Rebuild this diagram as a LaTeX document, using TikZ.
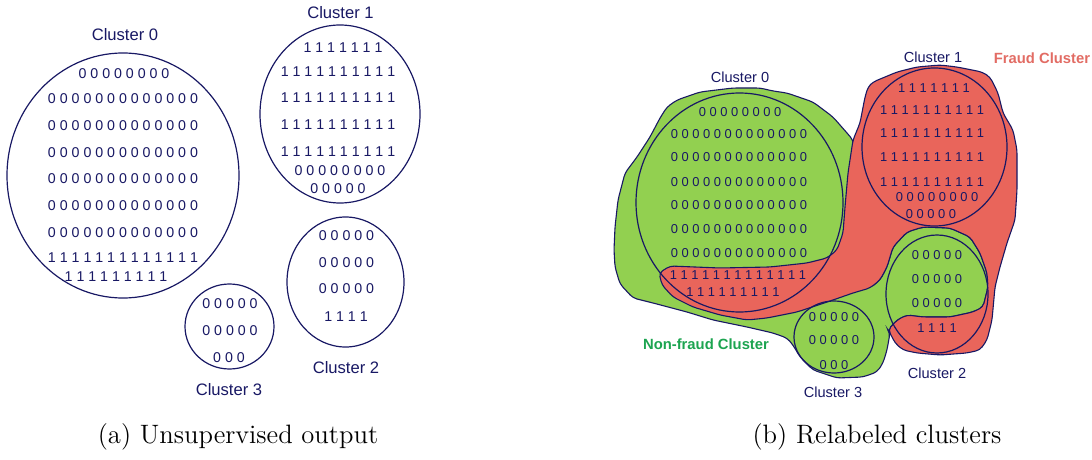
\documentclass[tikz,border=0pt]{standalone}
\usepackage{fontspec}
\newfontfamily\arialfont{Liberation Sans}
\definecolor{navy}{RGB}{24,24,100}
\definecolor{fraudred}{RGB}{233,101,91}
\definecolor{fraudtext}{RGB}{226,108,100}
\definecolor{okgreen}{RGB}{146,208,80}
\definecolor{oktext}{RGB}{28,164,80}
% boundary shared by the red region and the green patch on cluster 2
\newcommand{\patchedge}{-- (888,330) -- (897,320) -- (907,315) -- (923,317)
  -- (950,317) -- (973,312) -- (983,307) -- (988,287) -- (987,273)
  -- (980,253) -- (970,237) -- (950,228) -- (923,227) -- (907,232)
  -- (893,247) -- (887,267) -- (880,280) -- (870,288)}

\begin{document}
\begin{tikzpicture}[x=0.5pt,y=-0.5pt,
    every node/.style={inner sep=0pt,text=navy},
    lbl/.style={font=\arialfont\fontsize{8.3}{10}\selectfont},
    lblr/.style={font=\arialfont\fontsize{7.3}{9}\selectfont},
    digs/.style={font=\arialfont\fontsize{7.1}{9}\selectfont},
    digsr/.style={font=\arialfont\fontsize{6.45}{8}\selectfont},
    clus/.style={draw=navy,line width=0.6pt},
    blob/.style={draw=navy,line width=0.55pt,rounded corners=2pt}]
  \useasboundingbox (0,0) rectangle (1092,460);

  % (a) the four clusters as they come out
  \coordinate (Azero) at (123,175.5);
  \coordinate (Aone) at (340,114);
  \coordinate (Atwo) at (345.5,282);
  \coordinate (Athree) at (229.5,326.5);
  \draw[clus] (Azero) ellipse [x radius=116, y radius=122.5];
  \draw[clus] (Aone) ellipse [x radius=80, y radius=89];
  \draw[clus] (Atwo) ellipse [x radius=58.5, y radius=65];
  \draw[clus] (Athree) ellipse [x radius=44.5, y radius=42.5];

  \foreach \x/\y/\row [count=\i] in {
      124/74/{0 0 0 0 0 0 0 0},
      123/99/{0 0 0 0 0 0 0 0 0 0 0 0 0},
      123/126/{0 0 0 0 0 0 0 0 0 0 0 0 0},
      123/153/{0 0 0 0 0 0 0 0 0 0 0 0 0},
      123/179/{0 0 0 0 0 0 0 0 0 0 0 0 0},
      123/206/{0 0 0 0 0 0 0 0 0 0 0 0 0},
      123/233/{0 0 0 0 0 0 0 0 0 0 0 0 0},
      123/258/{1 1 1 1 1 1 1 1 1 1 1 1 1},
      116/277/{1 1 1 1 1 1 1 1 1}}
    \node[digs] (Azero\i) at (\x,\y) {\row};
  \foreach \x/\y/\row [count=\i] in {
      343/48/{1 1 1 1 1 1 1},
      338/72/{1 1 1 1 1 1 1 1 1 1},
      338/98/{1 1 1 1 1 1 1 1 1 1},
      338/125/{1 1 1 1 1 1 1 1 1 1},
      338/152/{1 1 1 1 1 1 1 1 1 1},
      340/171/{0 0 0 0 0 0 0 0},
      338/189/{0 0 0 0 0}}
    \node[digs] (Aone\i) at (\x,\y) {\row};
  \foreach \x/\y/\row [count=\i] in {
      346.5/236/{0 0 0 0 0},
      346.5/263/{0 0 0 0 0},
      346.5/289/{0 0 0 0 0},
      346/317/{1 1 1 1}}
    \node[digs] (Atwo\i) at (\x,\y) {\row};
  \foreach \x/\y/\row [count=\i] in {
      230/304/{0 0 0 0 0},
      230/331/{0 0 0 0 0},
      229/358/{0 0 0}}
    \node[digs] (Athree\i) at (\x,\y) {\row};

  \node[lbl] (AzeroName) at (125,35) {Cluster 0};
  \node[lbl] (AoneName) at (340.5,13) {Cluster 1};
  \node[lbl] (AtwoName) at (346,368) {Cluster 2};
  \node[lbl] (AthreeName) at (229,390) {Cluster 3};

  % (b) green region first, the red one over it
  \draw[blob,fill=okgreen]
    (853,140) -- (847,133) -- (833,117) -- (813,102) -- (787,93) -- (773,91)
    -- (760,88) -- (733,88) -- (700,92) -- (677,100) -- (667,107) -- (660,118)
    -- (650,137) -- (637,157) -- (625,173) -- (618,200) -- (615,227)
    -- (614,250) -- (615,267) -- (620,284) -- (633,298) -- (653,303)
    -- (687,312) -- (713,320) -- (747,327) -- (773,333) -- (787,338)
    -- (793,345) -- (800,357) -- (813,370) -- (837,378) -- (863,377)
    -- (877,372) -- (883,363) -- (887,350) -- (890,333) \patchedge
    -- (860,255) -- (858,180) -- cycle;
  \draw[blob,fill=fraudred]
    (868,87) -- (873,82) -- (897,72) -- (917,67) -- (940,65) -- (957,67)
    -- (982,72) -- (990,77) -- (998,93) -- (1003,113) -- (1013,130)
    -- (1017,150) -- (1017,190) -- (1015,220) -- (1007,243) -- (1000,267)
    -- (995,287) -- (992,320) -- (987,340) -- (980,350) -- (967,353)
    -- (940,355) -- (917,353) -- (903,350) -- (895,343) -- (890,333) \patchedge
    -- (853,293) -- (833,300) -- (797,312) -- (767,318) -- (747,320)
    -- (720,315) -- (693,307) -- (673,297) -- (662,285) -- (659,273)
    -- (670,266) -- (720,268) -- (770,267) -- (807,263) -- (827,258)
    -- (837,250) -- (843,233) -- (845,207) -- (848,173) -- (853,140)
    -- (860,123) -- (865,97) -- cycle;

  \coordinate (Bzero) at (739.5,202.5);
  \coordinate (Bone) at (934.5,147);
  \coordinate (Btwo) at (937,294);
  \coordinate (Bthree) at (834,337);
  \draw[clus] (Bzero) ellipse [x radius=103.5, y radius=109.5];
  \draw[clus] (Bone) ellipse [x radius=72.5, y radius=79];
  \draw[clus] (Btwo) ellipse [x radius=51, y radius=59];
  \draw[clus] (Bthree) ellipse [x radius=40, y radius=36];

  \foreach \x/\y/\row [count=\i] in {
      740/112/{0 0 0 0 0 0 0 0},
      739/134/{0 0 0 0 0 0 0 0 0 0 0 0 0},
      739/157/{0 0 0 0 0 0 0 0 0 0 0 0 0},
      739/182/{0 0 0 0 0 0 0 0 0 0 0 0 0},
      739/205/{0 0 0 0 0 0 0 0 0 0 0 0 0},
      739/229/{0 0 0 0 0 0 0 0 0 0 0 0 0},
      739/253/{0 0 0 0 0 0 0 0 0 0 0 0 0},
      738/275/{1 1 1 1 1 1 1 1 1 1 1 1 1},
      733/292/{1 1 1 1 1 1 1 1 1}}
    \node[digsr] (Bzero\i) at (\x,\y) {\row};
  \foreach \x/\y/\row [count=\i] in {
      934/88/{1 1 1 1 1 1 1},
      932/110/{1 1 1 1 1 1 1 1 1 1},
      932/133/{1 1 1 1 1 1 1 1 1 1},
      932/157/{1 1 1 1 1 1 1 1 1 1},
      932/182/{1 1 1 1 1 1 1 1 1 1},
      937/197/{0 0 0 0 0 0 0 0},
      931/214/{0 0 0 0 0}}
    \node[digsr] (Bone\i) at (\x,\y) {\row};
  \foreach \x/\y/\row [count=\i] in {
      937/255/{0 0 0 0 0},
      937/279/{0 0 0 0 0},
      937/303/{0 0 0 0 0},
      937/328/{1 1 1 1}}
    \node[digsr] (Btwo\i) at (\x,\y) {\row};
  \foreach \x/\y/\row [count=\i] in {
      834/317/{0 0 0 0 0},
      834/340/{0 0 0 0 0},
      834/365/{0 0 0}}
    \node[digsr] (Bthree\i) at (\x,\y) {\row};

  \node[lblr] (BzeroName) at (740,77) {Cluster 0};
  \node[lblr] (BoneName) at (933,57) {Cluster 1};
  \node[lblr] (BtwoName) at (937,373) {Cluster 2};
  \node[lblr] (BthreeName) at (833,392) {Cluster 3};
  \node[lblr,font=\arialfont\bfseries\fontsize{7.4}{9}\selectfont,text=fraudtext]
    (FraudName) at (1042,58) {Fraud Cluster};
  \node[lblr,font=\arialfont\bfseries\fontsize{7.4}{9}\selectfont,text=oktext]
    (OkName) at (706,344) {Non-fraud Cluster};

  % sub-captions
  \node[text=black,font=\fontsize{13.3}{16}\selectfont] (CapA) at (238,437)
    {(a) Unsupervised output};
  \node[text=black,font=\fontsize{13.3}{16}\selectfont] (CapB) at (877,437)
    {(b) Relabeled clusters};
\end{tikzpicture}
\end{document}
